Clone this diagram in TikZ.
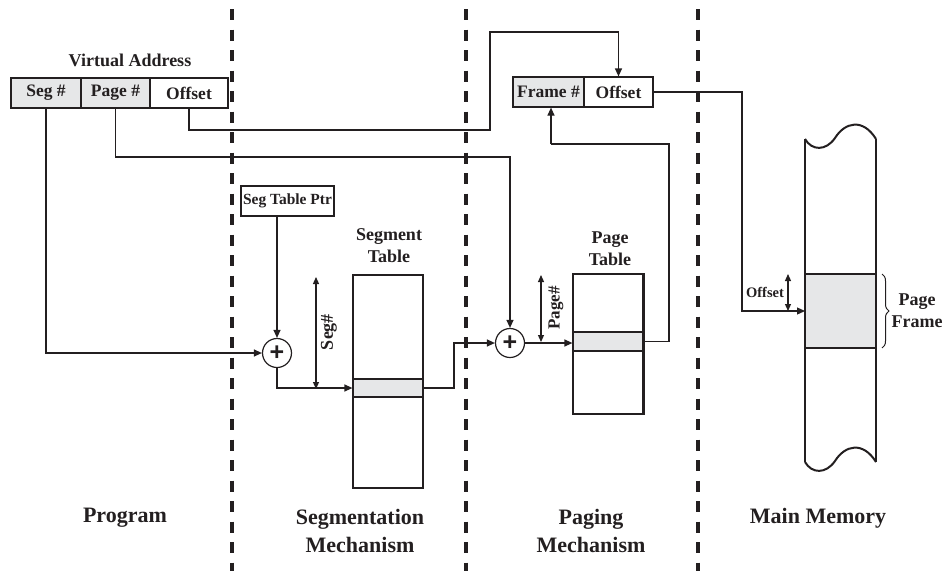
\documentclass[tikz,border=0pt]{standalone}
\usepackage{fontspec}
\setmainfont{Liberation Serif}
\newfontfamily\plusfont{Liberation Sans}
\usetikzlibrary{arrows.meta,decorations.pathreplacing,calc}
\definecolor{ink}{HTML}{231F20}
\definecolor{boxgray}{HTML}{E6E7E8}
\newcommand\fz[2]{\fontsize{#1}{#2}\selectfont\bfseries}
\begin{document}
\begin{tikzpicture}[x=1pt,y=-1pt,
  conn/.style={draw=ink, line width=1.2pt},
  arr/.style={conn, -{Triangle[length=8pt,width=7pt]}},
  darr/.style={conn, {Triangle[length=7pt,width=6pt]}-{Triangle[length=7pt,width=6pt]}},
  fld/.style={draw=ink, line width=1.2pt, minimum height=30pt, inner sep=0pt, font=\fz{17.5}{20}, text=ink},
  sfld/.style={fld, fill=boxgray},
  lbl/.style={font=\fz{18}{22}, text=ink, align=center, inner sep=0pt},
  biglbl/.style={font=\fz{22}{28}, text=ink, align=center, inner sep=0pt},
  divider/.style={draw=ink, line width=4.5pt, dash pattern=on 11pt off 9.5pt},
  adder/.style={circle, draw=ink, line width=1.2pt, minimum size=29pt, inner sep=0pt, text=ink, font=\plusfont\fontsize{25}{25}\selectfont\bfseries},
  tbl/.style={draw=ink, line width=1.5pt, minimum width=70pt, inner sep=0pt},
  trow/.style={draw=ink, line width=1.2pt, fill=boxgray, minimum width=70pt, inner sep=0pt}
]
\useasboundingbox (0,0) rectangle (943,571);

% dividers
\draw[divider] (232,9) -- (232,571);
\draw[divider] (466,9) -- (466,571);
\draw[divider] (698,9) -- (698,571);

% virtual address
\node[lbl] (va) at (130,60) {Virtual Address};
\node[sfld, minimum width=70pt] (seg) at (46,93) {Seg \#};
\node[sfld, minimum width=69pt] (page) at (115.5,93) {Page \#};
\node[fld, minimum width=78pt] (voff) at (189,93) {Offset};

% frame / offset
\node[sfld, minimum width=71pt] (fr) at (548.5,92) {Frame \#};
\node[fld, minimum width=69pt] (foff) at (618.5,92) {Offset};

% seg table ptr
\node[fld, minimum width=93pt, font=\fz{15.5}{18}] (ptr) at (287.5,201) {Seg Table Ptr};

% adders
\node[adder] (c1) at (277,353) {+};
\node[adder] (c2) at (510,343) {+};

% segment table
\node[lbl] (stl) at (389,246) {Segment\\Table};
\node[trow, minimum height=18pt] (srow) at (388,388) {};
\node[tbl, minimum height=213pt] (stab) at (388,381.5) {};

% page table
\node[lbl] (ptl) at (610,249) {Page\\Table};
\node[trow, minimum height=19pt] (prow) at (608,341.5) {};
\node[tbl, minimum height=140pt] (ptab) at (608,344) {};
\draw[ink, line width=2.5pt] (ptab.north east) -- (ptab.south east);

% main memory
\fill[boxgray] (805,274) rectangle (876,348);
\draw[ink, line width=1.2pt] (805,274) -- (876,274) (805,348) -- (876,348);
\draw[ink, line width=2pt, line join=round]
  (805,139) .. controls (812,151) and (826,151) .. (835,138)
  .. controls (845,122) and (863,118) .. (876,139);
\draw[ink, line width=2pt, line join=round]
  (805,462) .. controls (812,474) and (826,474) .. (835,461)
  .. controls (845,445) and (863,441) .. (876,462);
\draw[ink, line width=2pt] (805,139) -- (805,462);
\draw[ink, line width=2pt] (876,139) -- (876,462);
\coordinate (mL) at (805,311);

% connectors
\draw[arr] (seg.south) |- (c1.west);
\coordinate (pk) at (115.5,157);
\draw[arr] (page.south) -- (pk) -| (c2.north);
\coordinate (o1) at (490,130);
\coordinate (o2) at (490,32);
\draw[arr] (voff.south) |- (o1) -- (o2) -| (foff.north);
\draw[arr] (ptr.south -| c1.north) -- (c1.north);
\draw[arr] (c1.south) |- (srow.west);
\coordinate (s1) at (454,388);
\draw[arr] (srow.east) -- (s1) |- (c2.west);
\draw[arr] (c2.east) -- (c2.east -| prow.west);
\coordinate (p1) at (669,144);
\coordinate (p2) at (551,144);
\draw[conn] (prow.east) -| (p1) -- (p2);
\draw[arr] (p2) -- (p2 |- fr.south);
\coordinate (m1) at (742,311);
\draw[arr] (foff.east) -| (m1) -- (mL);

% dimension arrows
\coordinate (sa) at (316,277);
\coordinate (sb) at (316,389);
\draw[darr] (sa) -- (sb);
\node[lbl, rotate=90] (segn) at (329,332) {Seg\#};
\coordinate (pa) at (541,275);
\coordinate (pb) at (541,342);
\draw[darr] (pa) -- (pb);
\node[lbl, rotate=90, font=\fz{17}{20}] (pagen) at (556,308) {Page\#};
\coordinate (oa) at (788,274);
\coordinate (ob) at (788,311);
\draw[darr] (oa) -- (ob);
\node[lbl, font=\fz{14.5}{17}] (offl) at (765,292) {Offset};

% brace
\coordinate (bt) at (882,274);
\coordinate (bb) at (882,348);
\draw[ink, line width=1pt, decorate, decoration={brace, amplitude=7pt}] (bt) -- (bb);
\node[lbl] (pfl) at (917,311) {Page\\Frame};

% bottom labels
\node[biglbl] (l1) at (125,518) {Program};
\node[biglbl, anchor=north] (l2) at (360,509) {Segmentation\\Mechanism};
\node[biglbl, anchor=north] (l3) at (591,509) {Paging\\Mechanism};
\node[biglbl] (l4) at (818,518) {Main Memory};
\end{tikzpicture}
\end{document}
